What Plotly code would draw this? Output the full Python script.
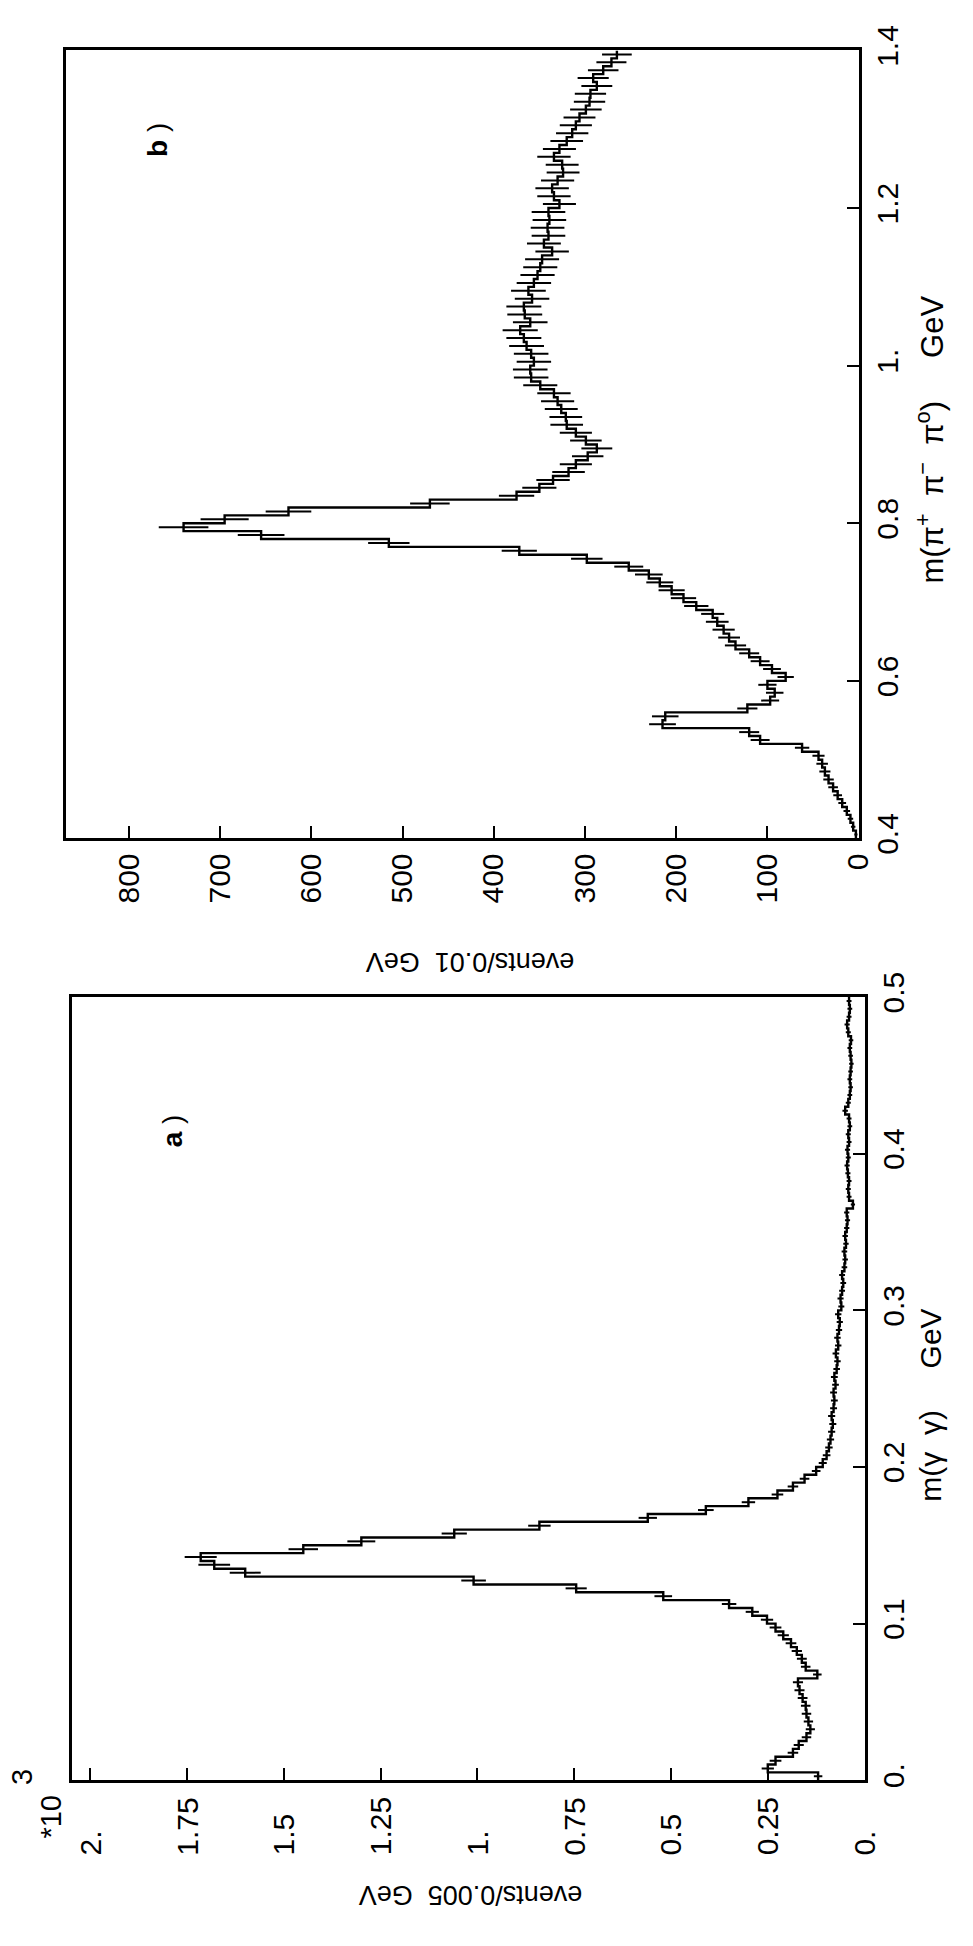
import numpy as np
import plotly.graph_objects as go

# ---------------- data ----------------
# panel b: m(pi+ pi- pi0), 0.01 GeV bins from 0.40 to 1.40 GeV
b_lo = 0.40
b_width = 0.01
b_counts = [
    3, 6, 9, 13, 18, 23, 28, 33, 37, 40,
    44, 62, 108, 120, 215, 212, 122, 97, 92, 100,
    80, 95, 108, 120, 135, 142, 148, 155, 160, 178,
    192, 205, 218, 230, 252, 298, 372, 515, 655, 740,
    695, 625, 470, 375, 350, 335, 318, 310, 297, 287,
    299, 310, 320, 321, 326, 330, 334, 349, 359, 360,
    356, 359, 364, 367, 371, 360, 366, 367, 358, 362,
    356, 352, 349, 347, 336, 345, 340, 341, 339, 340,
    328, 334, 336, 330, 324, 325, 334, 328, 320, 314,
    310, 306, 299, 295, 294, 287, 291, 280, 271, 265,
]

# panel a: m(gamma gamma), 0.005 GeV bins from 0 to 0.5 GeV
a_lo = 0.0
a_width = 0.005
a_counts = [
    120, 250, 230, 185, 170, 150, 140, 145, 150, 152,
    160, 168, 172, 122, 152, 162, 175, 190, 210, 230,
    252, 290, 350, 520, 745, 1010, 1600, 1680, 1715, 1450,
    1300, 1060, 840, 560, 410, 300, 225, 185, 155, 125,
    108, 98, 92, 88, 85, 82, 85, 80, 78, 80,
    75, 78, 72, 70, 74, 68, 70, 66, 64, 68,
    60, 62, 58, 55, 58, 52, 50, 52, 48, 50,
    46, 44, 46, 30, 40, 42, 40, 43, 45, 42,
    44, 40, 42, 38, 40, 50, 42, 38, 36, 38,
    36, 34, 36, 38, 35, 42, 45, 40, 38, 40,
]

b_count_ticks = [0, 100, 200, 300, 400, 500, 600, 700, 800]
b_mass_ticks = [0.4, 0.6, 0.8, 1.0, 1.2, 1.4]
b_mass_ticktext = ["0.4", "0.6", "0.8", "1.", "1.2", "1.4"]

a_count_ticks = [0, 250, 500, 750, 1000, 1250, 1500, 1750, 2000]
a_count_ticktext = ["0.", "0.25", "0.5", "0.75", "1.", "1.25", "1.5", "1.75", "2."]
a_mass_ticks = [0.0, 0.1, 0.2, 0.3, 0.4, 0.5]
a_mass_ticktext = ["0.", "0.1", "0.2", "0.3", "0.4", "0.5"]

# ---------------- page geometry ----------------
W, H = 973, 1946
FONT = "Liberation Sans, Arial, sans-serif"
TICK_SIZE = 30
SP = "\u00a0"


def px_x(p):
    return p / W


def px_y(p):
    return 1 - p / H


def step_trace(counts, lo, width, xa, ya):
    """Histogram outline drawn sideways: counts along x, mass along y."""
    counts = np.asarray(counts, float)
    edges = lo + width * np.arange(len(counts) + 1)
    xs = np.repeat(counts, 2)
    ys = np.empty(2 * len(counts))
    ys[0::2] = edges[:-1]
    ys[1::2] = edges[1:]
    return go.Scatter(x=xs, y=ys, mode="lines", xaxis=xa, yaxis=ya,
                      line=dict(color="black", width=2.4), hoverinfo="skip",
                      showlegend=False)


def error_trace(counts, lo, width, xa, ya):
    counts = np.asarray(counts, float)
    centers = lo + width * (np.arange(len(counts)) + 0.5)
    return go.Scatter(x=counts, y=centers, mode="markers", xaxis=xa, yaxis=ya,
                      marker=dict(size=1, color="black"),
                      error_x=dict(type="data", array=np.sqrt(counts),
                                   width=0, thickness=2, color="black"),
                      hoverinfo="skip", showlegend=False)


fig = go.Figure()
fig.add_trace(step_trace(b_counts, b_lo, b_width, "x", "y"))
fig.add_trace(error_trace(b_counts, b_lo, b_width, "x", "y"))
fig.add_trace(step_trace(a_counts, a_lo, a_width, "x2", "y2"))
fig.add_trace(error_trace(a_counts, a_lo, a_width, "x2", "y2"))

frame = dict(showline=True, mirror=True, linecolor="black", linewidth=3,
             showgrid=False, zeroline=False, ticks="inside", ticklen=12,
             tickwidth=2, tickcolor="black",
             tickfont=dict(family=FONT, size=TICK_SIZE, color="black"))

fig.update_layout(
    width=W, height=H,
    margin=dict(l=0, r=0, t=0, b=0),
    paper_bgcolor="white", plot_bgcolor="white",
    font=dict(family=FONT, color="black"),
    xaxis=dict(frame, domain=[px_x(67), px_x(873)], range=[869, 0],
               anchor="y", tickvals=b_count_ticks, tickangle=-90),
    yaxis=dict(frame, domain=[px_y(831), px_y(26)], range=[0.4, 1.4],
               anchor="x", side="right", tickvals=b_mass_ticks,
               ticktext=b_mass_ticktext, tickangle=-90),
    xaxis2=dict(frame, domain=[px_x(73), px_x(879)], range=[2048, 0],
                anchor="y2", tickvals=a_count_ticks, showticklabels=False),
    yaxis2=dict(frame, domain=[px_y(1793), px_y(993)], range=[0, 0.5],
                anchor="x2", side="right", tickvals=a_mass_ticks,
                ticktext=a_mass_ticktext, tickangle=-90),
)

ann = []
# count labels of panel a, aligned at their starting end
for v, t in zip(a_count_ticks, a_count_ticktext):
    ann.append(dict(x=v, y=px_y(1872), xref="x2", yref="paper",
                    text=t, textangle=-90, showarrow=False,
                    xanchor="center", yanchor="bottom",
                    font=dict(family=FONT, size=TICK_SIZE)))


def label(text, x, y, angle, size, **kw):
    ann.append(dict(x=px_x(x), y=px_y(y), xref="paper", yref="paper",
                    text=text, textangle=angle, showarrow=False,
                    xanchor="center", yanchor="middle",
                    font=dict(family=FONT, size=size, color="black"), **kw))


title_b = ("m(π<sup>+</sup>" + SP * 2 + "π<sup>−</sup>" + SP * 2
           + "π<sup>o</sup>)" + SP * 5 + "GeV")
title_a = "m(γ" + SP * 2 + "γ)" + SP * 5 + "GeV"

label("<b>b</b> )", 160, 117, -90, 28)
label("<b>a</b> )", 175, 1130, -90, 28)
label(title_b, 946, 423, -90, 31)
label(title_a, 946, 1410, -90, 30)
label("events/0.01" + SP * 2 + "GeV", 478, 957, 180, 27)
label("events/0.005" + SP * 2 + "GeV", 478, 1910, 180, 27)
label("*10", 52, 1830, -90, 29)
label("3", 23, 1790, -90, 29)

fig.update_layout(annotations=ann)
fig.write_html("out.html")
